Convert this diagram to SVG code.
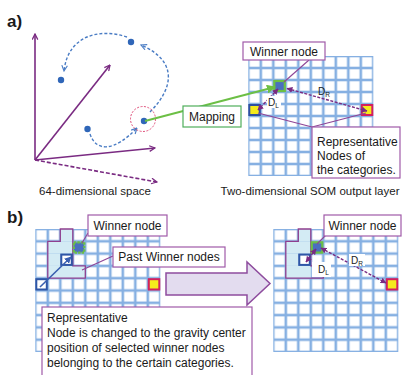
<svg xmlns="http://www.w3.org/2000/svg" width="403" height="375" viewBox="0 0 403 375">
<style>
text{font-family:"Liberation Sans",Arial,sans-serif;fill:#1a1a1a}
.lbl{font-size:12px}
.cap{font-size:11.5px}
.hd{font-size:17px;font-weight:bold}
.box{fill:#fff;stroke:#a05aa8;stroke-width:1.2}
.axis{stroke:#7a2b82;stroke-width:1.6;fill:none}
.curve{stroke:#4a7cc4;stroke-width:1.4;fill:none;stroke-dasharray:3,2}
.pline{stroke:#8e4496;stroke-width:1.1;fill:none}
.darr{stroke:#7a2b82;stroke-width:1.4;fill:none;stroke-dasharray:3,1.5}
.lb{fill:#d3ebf4}
.outl{fill:none;stroke:#8e3f8f;stroke-width:1.3}
.win{fill:#4a6fbf;stroke:#6cbf45;stroke-width:2.2}
.repL{fill:#f5ea1c;stroke:#2f4fa0;stroke-width:2}
.repR{fill:#f5ea1c;stroke:#d3205e;stroke-width:2}
.sq{fill:#fff;stroke:#2f56a6;stroke-width:2}
.dot{fill:#2f66b8}
.sub{font-size:6.5px}
.dl{font-size:10px}
</style>
<defs>
<pattern id="gA" patternUnits="userSpaceOnUse" x="248.3" y="56" width="12.5" height="12">
<rect x="0.65" y="0.65" width="11.2" height="10.7" fill="#fff" stroke="#86b0e2" stroke-width="1.3"/>
</pattern>
<pattern id="gB" patternUnits="userSpaceOnUse" x="35.3" y="229" width="12.5" height="12.3">
<rect x="0.65" y="0.65" width="11.2" height="11" fill="#fff" stroke="#86b0e2" stroke-width="1.3"/>
</pattern>
<pattern id="gC" patternUnits="userSpaceOnUse" x="273.3" y="229" width="12.5" height="12.3">
<rect x="0.65" y="0.65" width="11.2" height="11" fill="#fff" stroke="#86b0e2" stroke-width="1.3"/>
</pattern>
<marker id="mAx" viewBox="0 0 10 10" refX="9" refY="5" markerWidth="7" markerHeight="7" markerUnits="userSpaceOnUse" orient="auto">
<path d="M1,1 L9,5 L1,9" fill="none" stroke="#7a2b82" stroke-width="1.8"/>
</marker>
<marker id="mBl" viewBox="0 0 10 10" refX="9" refY="5" markerWidth="7" markerHeight="7" markerUnits="userSpaceOnUse" orient="auto">
<path d="M1,1 L9,5 L1,9" fill="none" stroke="#4a7cc4" stroke-width="1.6"/>
</marker>
<marker id="mPu" viewBox="0 0 10 10" refX="9" refY="5" markerWidth="6" markerHeight="6" markerUnits="userSpaceOnUse" orient="auto-start-reverse">
<path d="M0,0 L10,5 L0,10 Z" fill="#7a2b82"/>
</marker>
<marker id="mGr" viewBox="0 0 10 10" refX="9" refY="5" markerWidth="9" markerHeight="9" markerUnits="userSpaceOnUse" orient="auto">
<path d="M0,0 L10,5 L0,10 Z" fill="#6cbf45"/>
</marker>
<marker id="mBs" viewBox="0 0 10 10" refX="9" refY="5" markerWidth="7" markerHeight="7" markerUnits="userSpaceOnUse" orient="auto">
<path d="M0,0 L10,5 L0,10 Z" fill="#3a5fb0"/>
</marker>
</defs>
<rect width="403" height="375" fill="#fff"/>

<text class="hd" x="7" y="27">a)</text>
<text class="hd" x="7" y="223">b)</text>

<!-- 64-dimensional space -->
<g id="space64">
<line class="axis" x1="35" y1="160" x2="35" y2="34" marker-end="url(#mAx)"/>
<line class="axis" x1="35" y1="160" x2="110" y2="65" marker-end="url(#mAx)"/>
<line class="axis" x1="35" y1="160" x2="155" y2="148" marker-end="url(#mAx)"/>
<line class="axis" x1="35" y1="160" x2="157" y2="182" stroke-dasharray="4,2" marker-end="url(#mAx)"/>
<path class="curve" d="M127,37 C100,28 68,35 64,71" marker-end="url(#mBl)"/>
<path class="curve" d="M150,112 C172,90 180,62 141,45" marker-end="url(#mBl)"/>
<path class="curve" d="M90,134 C96,152 114,152 137,128" marker-end="url(#mBl)"/>
<circle cx="143" cy="119" r="12.5" fill="none" stroke="#e0507a" stroke-width="1" stroke-dasharray="2,1.5"/>
<circle class="dot" cx="131" cy="42" r="3.2"/>
<circle class="dot" cx="61" cy="80" r="3.2"/>
<circle class="dot" cx="87.5" cy="129" r="3.2"/>
<circle class="dot" cx="144" cy="121" r="3.2"/>
<text class="cap" x="95" y="195" text-anchor="middle">64-dimensional space</text>
</g>

<!-- SOM output layer (a) -->
<g id="somA">
<rect x="248.3" y="56" width="125" height="120" fill="url(#gA)"/>
<rect class="win" x="274.3" y="81" width="10.5" height="10"/>
<rect class="repL" x="249.3" y="105" width="10.5" height="10"/>
<rect class="repR" x="361.8" y="105" width="10.5" height="10"/>
<text class="cap" x="310" y="195" text-anchor="middle">Two-dimensional SOM output layer</text>
</g>

<!-- Grid (b) left -->
<g id="somB1">
<rect x="35.3" y="229" width="125" height="123" fill="url(#gB)"/>
<rect class="lb" x="60.3" y="229" width="12.5" height="12.3"/>
<rect class="lb" x="47.8" y="241.3" width="25" height="12.3"/>
<rect class="lb" x="47.8" y="253.6" width="12.5" height="12.3"/>
<rect class="lb" x="47.8" y="265.9" width="37.5" height="12.3"/>
<path class="outl" d="M60.3,229 H72.8 V265.9 H85.3 V278.2 H47.8 V241.3 H60.3 Z"/>
<rect class="sq" x="61.3" y="254.6" width="10.5" height="10.3"/>
<rect class="sq" x="36.3" y="279.2" width="10.5" height="10.3"/>
<rect class="repR" x="148.8" y="279.2" width="10.5" height="10.3"/>
<rect x="73.8" y="242.3" width="10.5" height="10.3" fill="#4a6fbf" stroke="#6cbf45" stroke-width="2.2" stroke-dasharray="2.5,1"/>
</g>

<!-- Grid (b) right -->
<g id="somB2">
<rect x="273.3" y="229" width="125" height="123" fill="url(#gC)"/>
<rect class="lb" x="298.3" y="229" width="12.5" height="12.3"/>
<rect class="lb" x="285.8" y="241.3" width="25" height="12.3"/>
<rect class="lb" x="285.8" y="253.6" width="12.5" height="12.3"/>
<rect class="lb" x="285.8" y="265.9" width="25" height="12.3"/>
<path class="outl" d="M298.3,229 H310.8 V265.9 H323.3 V278.2 H285.8 V241.3 H298.3 Z"/>
<rect class="sq" x="299.3" y="254.6" width="10.5" height="10.3"/>
<rect class="win" x="311.8" y="242.3" width="10.5" height="10.3"/>
<rect class="repR" x="386.8" y="279.2" width="10.5" height="10.3"/>
</g>

<!-- Big arrow -->
<g id="bigArrow">
<path d="M166,273 H247 V262 L270,283.5 L247,305 V295 H166 Z" fill="#e3dcef" stroke="#8e4c9e" stroke-width="1.5"/>
</g>

<!-- connectors -->
<g id="connectors">
<line x1="145" y1="121" x2="275" y2="87" stroke="#6cbf45" stroke-width="2" marker-end="url(#mGr)"/>
<line class="pline" x1="309" y1="60" x2="284" y2="82"/>
<line class="pline" x1="312" y1="127" x2="258" y2="113"/>
<line class="pline" x1="312" y1="127" x2="366" y2="113"/>
<line class="darr" x1="278" y1="89" x2="258" y2="110" marker-start="url(#mPu)" marker-end="url(#mPu)"/>
<line class="darr" x1="287" y1="88.5" x2="367" y2="111" marker-start="url(#mPu)" marker-end="url(#mPu)"/>
<line x1="40" y1="287" x2="71" y2="257" stroke="#3a5fb0" stroke-width="1.6" marker-end="url(#mBs)"/>
<line class="pline" x1="88" y1="233" x2="82" y2="243"/>
<line class="pline" x1="113" y1="256" x2="82" y2="270"/>
<line class="pline" x1="326" y1="235" x2="317" y2="244"/>
<line class="darr" x1="316" y1="249" x2="306" y2="262" marker-start="url(#mPu)" marker-end="url(#mPu)"/>
<line class="darr" x1="321" y1="248" x2="386" y2="283" marker-start="url(#mPu)" marker-end="url(#mPu)"/>
</g>

<!-- labels D -->
<g id="labelDL_a">
<rect x="267" y="96" width="14" height="12" fill="#fff"/>
<text class="dl" x="268" y="106">D<tspan class="sub" dy="2">L</tspan></text>
</g>
<g id="labelDR_a">
<text class="dl" x="318" y="95">D<tspan class="sub" dy="2">R</tspan></text>
</g>
<g id="labelDL_b">
<rect x="312" y="262" width="19" height="15" fill="#fff"/>
<text class="dl" x="318" y="273">D<tspan class="sub" dy="2">L</tspan></text>
</g>
<g id="labelDR_b">
<rect x="349" y="254" width="16" height="12" fill="#fff"/>
<text class="dl" x="351" y="264">D<tspan class="sub" dy="2">R</tspan></text>
</g>

<!-- boxes -->
<g id="mapping">
<rect class="box" x="183" y="106" width="58" height="21" style="stroke:#4fae5a"/>
<text class="lbl" x="212" y="121" text-anchor="middle">Mapping</text>
</g>
<g id="winnerA">
<rect class="box" x="243" y="42" width="82" height="18"/>
<text class="lbl" x="284" y="56" text-anchor="middle">Winner node</text>
</g>
<g id="repA">
<rect class="box" x="312" y="127" width="88" height="51"/>
<text class="lbl" x="317" y="146">Representative</text>
<text class="lbl" x="317" y="160">Nodes of</text>
<text class="lbl" x="317" y="174">the categories.</text>
</g>
<g id="winnerB1">
<rect class="box" x="88" y="215" width="79" height="21"/>
<text class="lbl" x="127.5" y="230" text-anchor="middle">Winner node</text>
</g>
<g id="pastWinner">
<rect class="box" x="113" y="247" width="112" height="20"/>
<text class="lbl" x="169" y="261" text-anchor="middle">Past Winner nodes</text>
</g>
<g id="winnerB2">
<rect class="box" x="324" y="215" width="77" height="21"/>
<text class="lbl" x="362.5" y="230" text-anchor="middle">Winner node</text>
</g>
<g id="repB">
<rect class="box" x="42" y="307" width="210" height="75"/>
<text class="lbl" x="47" y="322">Representative</text>
<text class="lbl" x="47" y="337">Node is changed to the gravity center</text>
<text class="lbl" x="47" y="352">position of selected winner nodes</text>
<text class="lbl" x="47" y="367">belonging to the certain categories.</text>
</g>
</svg>
